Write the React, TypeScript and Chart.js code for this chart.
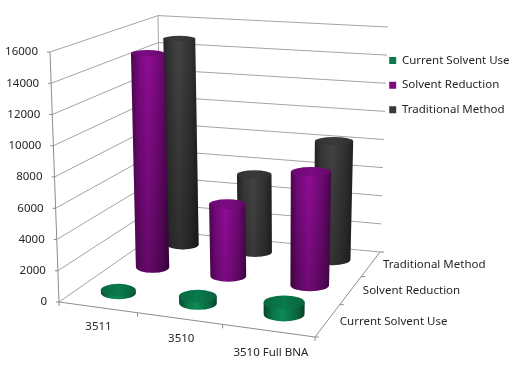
import React, { useEffect, useRef } from "react";
import { Chart, BarController, registerables } from "chart.js";

const categories = ["3511", "3510", "3510 Full BNA"];
const seriesNames = ["Current Solvent Use", "Solvent Reduction", "Traditional Method"];
const currentSolventUse = [200, 450, 750];
const solventReduction = [14700, 4850, 7550];
const traditionalMethod = [14850, 5500, 8300];
const seriesColors = ["#0a7a4c", "#7d0a82", "#3a3a3a"];

const FONT = '"Noto Sans", sans-serif';
const FONT_SIZE = 11.5;
const TEXT = "#262626";
const LINE = "#a3a3a3";
const AXIS = "#8c8c8c";
const BAR_RADIUS_U = 0.076;
const BAR_RADIUS_V = 0.075;

type P = [number, number];

function quadMap(p0: P, p1: P, p2: P, p3: P) {
  const dx1 = p1[0] - p2[0], dx2 = p3[0] - p2[0], sx = p0[0] - p1[0] + p2[0] - p3[0];
  const dy1 = p1[1] - p2[1], dy2 = p3[1] - p2[1], sy = p0[1] - p1[1] + p2[1] - p3[1];
  const det = dx1 * dy2 - dx2 * dy1;
  const g = (sx * dy2 - dx2 * sy) / det;
  const h = (dx1 * sy - sx * dy1) / det;
  const a = p1[0] - p0[0] + g * p1[0], b = p3[0] - p0[0] + h * p3[0], c = p0[0];
  const d = p1[1] - p0[1] + g * p1[1], e = p3[1] - p0[1] + h * p3[1], f = p0[1];
  return (u: number, v: number): P => {
    const w = g * u + h * v + 1;
    return [(a * u + b * v + c) / w, (d * u + e * v + f) / w];
  };
}

// The box of the 3D plot: floor and ceiling corners (front-left, front-right, back-right, back-left)
const floorMap = quadMap([59, 302], [315, 337], [380, 252], [161, 231]);
const ceilMap = quadMap([50, 52], [321, 75], [388, 27], [158, 15.6]);

function project(u: number, v: number, t: number): P {
  const a = floorMap(u, v), b = ceilMap(u, v);
  return [a[0] + (b[0] - a[0]) * t, a[1] + (b[1] - a[1]) * t];
}

function shade(hex: string, f: number) {
  const n = parseInt(hex.slice(1), 16);
  const ch = (s: number) => Math.max(0, Math.min(255, Math.round(((n >> s) & 255) * f)));
  return `rgb(${ch(16)},${ch(8)},${ch(0)})`;
}

const uOf = (s: any, i: number) => (s.getPixelForValue(i) - s.left) / s.width;
const tOf = (s: any, val: number) => (s.bottom - s.getPixelForValue(val)) / (s.bottom - s.top);

function disc(u: number, v: number, t: number) {
  const c = project(u, v, t);
  const l = project(u - BAR_RADIUS_U, v, t), r = project(u + BAR_RADIUS_U, v, t);
  const f = project(u, v - BAR_RADIUS_V, t), b = project(u, v + BAR_RADIUS_V, t);
  return { x: c[0] + 2, y: c[1], rx: Math.abs(r[0] - l[0]) / 2, ry: Math.abs(f[1] - b[1]) / 2 };
}

class CylinderController extends BarController {
  static id = "cylinder";
  static defaults = BarController.defaults;
  static overrides = BarController.overrides;

  draw() {
    const chart: any = this.chart;
    const ctx = chart.ctx;
    const { x, y, depth } = chart.scales;
    const ds: any = chart.data.datasets[this.index];
    const color: string = ds.backgroundColor;
    const v = uOf(depth, this.index);
    ds.data.forEach((val: number, i: number) => {
      const u = uOf(x, i);
      const bot = disc(u, v, 0);
      const top = disc(u, v, tOf(y, val));
      const path = () => {
        ctx.beginPath();
        ctx.moveTo(top.x - top.rx, top.y);
        ctx.lineTo(bot.x - bot.rx, bot.y);
        ctx.ellipse(bot.x, bot.y, bot.rx, bot.ry, 0, Math.PI, 0, true);
        ctx.lineTo(top.x + top.rx, top.y);
        ctx.closePath();
      };
      const xa = Math.min(top.x - top.rx, bot.x - bot.rx);
      const xb = Math.max(top.x + top.rx, bot.x + bot.rx);
      const g = ctx.createLinearGradient(xa, 0, xb, 0);
      g.addColorStop(0, shade(color, 0.6));
      g.addColorStop(0.2, shade(color, 0.95));
      g.addColorStop(0.45, shade(color, 1.15));
      g.addColorStop(0.8, shade(color, 0.85));
      g.addColorStop(1, shade(color, 0.55));
      path();
      ctx.fillStyle = g;
      ctx.fill();
      const vg = ctx.createLinearGradient(0, top.y, 0, bot.y + bot.ry);
      vg.addColorStop(0, "rgba(0,0,0,0)");
      vg.addColorStop(1, `rgba(0,0,0,${Math.min(0.3, (bot.y - top.y) / 500)})`);
      path();
      ctx.fillStyle = vg;
      ctx.fill();
      const tg = ctx.createLinearGradient(top.x - top.rx, 0, top.x + top.rx, 0);
      tg.addColorStop(0, shade(color, 0.85));
      tg.addColorStop(0.5, shade(color, 1));
      tg.addColorStop(1, shade(color, 0.8));
      ctx.beginPath();
      ctx.ellipse(top.x, top.y, top.rx, top.ry, 0, 0, Math.PI * 2);
      ctx.fillStyle = tg;
      ctx.fill();
    });
  }
}

Chart.register(...registerables, CylinderController);

const boxPlugin = {
  id: "box3d",
  afterLayout(chart: any) {
    const lg = chart.legend;
    const h = lg.bottom - lg.top;
    lg.left = 376;
    lg.top = 41.5;
    lg.bottom = 41.5 + h;
  },
  beforeDatasetsDraw(chart: any) {
    const ctx = chart.ctx;
    const { x, y, depth } = chart.scales;
    const seg = (a: P, b: P, c: string) => {
      ctx.beginPath();
      ctx.moveTo(a[0], a[1]);
      ctx.lineTo(b[0], b[1]);
      ctx.strokeStyle = c;
      ctx.lineWidth = 1;
      ctx.stroke();
    };
    ctx.save();
    ctx.font = `${FONT_SIZE}px ${FONT}`;
    ctx.fillStyle = TEXT;

    // walls and value axis, from the value scale's ticks
    ctx.textAlign = "right";
    ctx.textBaseline = "middle";
    y.ticks.forEach((tick: any) => {
      const t = tOf(y, tick.value);
      const front = project(0, 0, t), corner = project(0, 1, t), right = project(1, 1, t);
      seg(front, corner, LINE);
      seg(corner, right, LINE);
      seg([front[0] - 3, front[1]], front, AXIS);
      ctx.fillText(tick.label, front[0] - 12, front[1]);
    });
    seg(project(0, 0, 0), project(0, 0, 1), AXIS);
    seg(project(0, 1, 0), project(0, 1, 1), LINE);

    // floor edges
    seg(project(0, 0, 0), project(1, 0, 0), AXIS);
    seg(project(1, 0, 0), project(1, 1, 0), AXIS);

    // category axis
    const nx = x.ticks.length;
    for (let i = 0; i <= nx; i++) {
      const p = project(i / nx, 0, 0);
      seg(p, [p[0], p[1] + 4], AXIS);
    }
    ctx.textAlign = "center";
    x.ticks.forEach((tick: any, i: number) => {
      const p = project(uOf(x, i), 0, 0);
      ctx.fillText(tick.label, p[0] + 1 + i, p[1] + 19 + i * 1.5);
    });

    // depth axis
    const nd = depth.ticks.length;
    for (let i = 0; i <= nd; i++) {
      const p = project(1, i / nd, 0);
      seg(p, [p[0] + 4, p[1]], AXIS);
    }
    ctx.textAlign = "left";
    depth.ticks.forEach((tick: any, i: number) => {
      const p = project(1, uOf(depth, i), 0);
      ctx.fillText(tick.label, p[0] + 12, p[1] + 1);
    });
    ctx.restore();
  },
};

export default function App() {
  const ref = useRef<HTMLCanvasElement>(null);
  useEffect(() => {
    const chart = new Chart(ref.current as any, {
      type: "cylinder" as any,
      data: {
        labels: categories,
        datasets: [
          { label: seriesNames[0], data: currentSolventUse, backgroundColor: seriesColors[0], borderWidth: 0, clip: false },
          { label: seriesNames[1], data: solventReduction, backgroundColor: seriesColors[1], borderWidth: 0, clip: false },
          { label: seriesNames[2], data: traditionalMethod, backgroundColor: seriesColors[2], borderWidth: 0, clip: false },
        ],
      },
      options: {
        animation: false,
        responsive: false,
        devicePixelRatio: 1,
        layout: { padding: { left: 59, top: 52, bottom: 70, right: 0 } },
        scales: {
          x: { type: "category", display: false, offset: true, ticks: { autoSkip: false } },
          depth: { type: "category", axis: "x", display: false, offset: true, labels: seriesNames, ticks: { autoSkip: false } },
          y: { type: "linear", display: false, min: 0, max: 16000, ticks: { stepSize: 2000, callback: (v: any) => String(v) } },
        },
        plugins: {
          tooltip: { enabled: false },
          legend: {
            position: "right",
            align: "start",
            labels: {
              boxWidth: 7,
              boxHeight: 7,
              padding: 13.2,
              color: TEXT,
              font: { family: FONT, size: FONT_SIZE },
            },
          },
        },
      } as any,
      plugins: [boxPlugin],
    });
    return () => chart.destroy();
  }, []);
  return (
    <div style={{ position: "absolute", left: 0, top: 0, width: 524, height: 372 }}>
      <canvas ref={ref} width={524} height={372} style={{ display: "block" }} />
    </div>
  );
}
